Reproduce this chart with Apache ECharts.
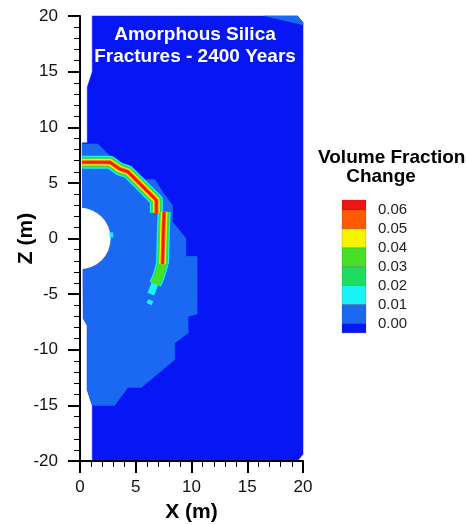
<!DOCTYPE html>
<html><head><meta charset="utf-8">
<script src="https://cdn.jsdelivr.net/npm/echarts@6/dist/echarts.min.js"></script>
<style>html,body{margin:0;padding:0;background:#fff}#c{width:466px;height:525px}</style>
</head><body><div id="c"></div>
<script>
// ---- data ----
const xTickValues = [0, 5, 10, 15, 20];
const zTickValues = [-20, -15, -10, -5, 0, 5, 10, 15, 20];
const levelLabels = ['0.06', '0.05', '0.04', '0.03', '0.02', '0.01', '0.00'];
// band index 0: below 0.00 ... 7: above 0.06
const levelColors = ['#0616f4', '#1b69f2', '#19f3f6', '#1edc5e', '#48e025', '#f8f400', '#ff5b05', '#f01414'];

const domainOutline = [[1.1,20],[19.5,20],[20,19.4],[20,-19.4],[19.5,-20],[1.1,-20],[1.1,-15],[0.65,-13.6],[0.65,-7.8],[0.3,-7.2],[0.2,8.6],[0.65,8.6],[0.65,13.6],[1.1,15]];
const cornerPatch = [[16.6,20],[19.5,20],[20,19.4],[20,19.2]];
const haloOutline = [[0.2,8.5],[1.6,8.5],[2.8,7.3],[3.7,6.8],[5.9,5.3],[6.7,5.3],[7.4,4.2],[8.3,3.0],[8.3,1.5],[9.5,0.0],[9.5,-1.6],[10.5,-1.6],[10.5,-6.8],[9.7,-7.0],[9.7,-8.5],[8.5,-9.4],[8.5,-10.9],[5.5,-13.4],[4.3,-13.4],[3.1,-15.0],[1.1,-15.0],[0.65,-13.6],[0.65,-7.8],[0.3,-7.2]];
const regionLevels = [0, 1, 1];
const driftCenter = [0, 0];
const driftRadius = 2.75;

const fractureUpper = [[0.2,6.85],[2.7,6.85],[3.55,6.25],[4.3,6.0],[5.2,5.1],[6.85,3.45],[6.85,2.3]];
const fractureVertical = [[7.55,2.4],[7.5,1.3],[7.4,-2.3]];
const fractureLowerA = [[7.4,-2.2],[7.05,-3.4],[6.75,-4.1]];
const fractureLowerB = [[6.75,-4.0],[6.35,-5.0]];
const fractureSpeck = [[6.35,-5.55],[6.2,-5.9]];
const driftSpeck = [[2.8,0.55],[2.84,0.1]];
const segmentPeaks = [7, 7, 4, 2, 2, 2];

// ---- styles ----
const FONT = 'Liberation Sans, Arial, Helvetica, sans-serif';
const bandWidths = [0, 0, 13, 10.5, 8.5, 6.5, 4, 2];
const segmentWidthScale = [1, 1, 0.95, 0.55, 0.42, 0.28];

const regions = [domainOutline, cornerPatch, haloOutline];
const segments = [fractureUpper, fractureVertical, fractureLowerA, fractureLowerB, fractureSpeck, driftSpeck];

const lineData = [];
for (let k = 2; k <= 7; k++) {
  segments.forEach((seg, i) => {
    if (segmentPeaks[i] >= k) {
      lineData.push({coords: seg, lineStyle: {color: levelColors[k], width: bandWidths[k] * segmentWidthScale[i], opacity: 1, cap: 'butt', join: 'round'}});
    }
  });
}

const regionData = regions.map((r, i) => [i]);
regionData.push([regions.length]);

// legend graphic
const LX = 342, LW = 24, LTOP = 200, HALF = 10, STEP = 18.9;
const legendEls = [];
const nBands = levelColors.length;
for (let k = nBands - 1; k >= 0; k--) {
  const j = nBands - 1 - k; // 0 = top
  let y, h;
  if (j === 0) { y = LTOP; h = HALF; }
  else if (j === nBands - 1) { y = LTOP + HALF + (nBands - 2) * STEP; h = HALF - 0.5; }
  else { y = LTOP + HALF + (j - 1) * STEP; h = STEP; }
  legendEls.push({type: 'rect', shape: {x: LX, y: y, width: LW, height: h}, style: {fill: levelColors[k], stroke: 'rgba(60,60,60,0.35)', lineWidth: 0.6}});
}
levelLabels.forEach((t, i) => {
  legendEls.push({type: 'text', x: LX + 36, y: LTOP + HALF + i * STEP, style: {text: t, fill: '#222', font: '15px ' + FONT, textAlign: 'left', textVerticalAlign: 'middle'}});
});

const chart = echarts.init(document.getElementById('c'), null, {renderer: 'canvas'});
chart.setOption({
  animation: false,
  backgroundColor: '#fff',
  grid: {left: 80, right: 163, top: 16, bottom: 64, containLabel: false, outerBoundsMode: 'none'},
  xAxis: {
    type: 'value', min: 0, max: 20, interval: 5, z: 5,
    name: 'X (m)', nameLocation: 'middle', nameGap: 41, nameMoveOverlap: false,
    nameTextStyle: {fontFamily: FONT, fontSize: 21, fontWeight: 'bold', color: '#000'},
    axisLine: {show: true, onZero: false, lineStyle: {color: '#000', width: 2}},
    axisTick: {show: true, length: 12, lineStyle: {color: '#000', width: 2}},
    minorTick: {show: true, splitNumber: 5, length: 6, lineStyle: {color: '#000', width: 1}},
    splitLine: {show: false},
    axisLabel: {fontFamily: FONT, fontSize: 17, color: '#111', margin: 18,
      formatter: v => xTickValues.includes(v) ? String(v) : ''}
  },
  yAxis: {
    type: 'value', min: -20, max: 20, interval: 5, z: 5,
    name: 'Z (m)', nameLocation: 'middle', nameGap: 43, nameMoveOverlap: false,
    nameTextStyle: {fontFamily: FONT, fontSize: 21, fontWeight: 'bold', color: '#000'},
    axisLine: {show: true, onZero: false, lineStyle: {color: '#000', width: 2}},
    axisTick: {show: true, length: 12, lineStyle: {color: '#000', width: 2}},
    minorTick: {show: true, splitNumber: 5, length: 6, lineStyle: {color: '#000', width: 1}},
    splitLine: {show: false},
    axisLabel: {fontFamily: FONT, fontSize: 17, color: '#111', margin: 22,
      formatter: v => zTickValues.includes(v) ? String(v) : ''}
  },
  graphic: [
    {type: 'text', x: 195, y: 35, z: 10, style: {text: 'Amorphous Silica', fill: '#fff', font: 'bold 19px ' + FONT, textAlign: 'center', textVerticalAlign: 'middle'}},
    {type: 'text', x: 195, y: 57, z: 10, style: {text: 'Fractures - 2400 Years', fill: '#fff', font: 'bold 19px ' + FONT, textAlign: 'center', textVerticalAlign: 'middle'}},
    {type: 'text', x: 318, y: 158, style: {text: 'Volume Fraction', fill: '#000', font: 'bold 19px ' + FONT, textAlign: 'left', textVerticalAlign: 'middle'}},
    {type: 'text', x: 381, y: 177, style: {text: 'Change', fill: '#000', font: 'bold 19px ' + FONT, textAlign: 'center', textVerticalAlign: 'middle'}},
    {type: 'group', children: legendEls}
  ],
  series: [
    {
      type: 'custom', z: 1, silent: true,
      data: regionData,
      encode: {x: -1, y: -1},
      renderItem: (params, api) => {
        const i = params.dataIndex;
        if (i < regions.length) {
          return {type: 'polygon', shape: {points: regions[i].map(p => api.coord(p))},
            style: {fill: levelColors[regionLevels[i]], stroke: levelColors[regionLevels[i]], lineWidth: 0.5}};
        }
        const c = api.coord(driftCenter);
        const s = api.size([driftRadius, driftRadius]);
        return {type: 'sector', shape: {cx: c[0], cy: c[1], r: (s[0] + s[1]) / 2, r0: 0, startAngle: -Math.PI / 2, endAngle: Math.PI / 2, clockwise: true},
          style: {fill: '#fff'}};
      }
    },
    {
      type: 'lines', coordinateSystem: 'cartesian2d', polyline: true, z: 2, silent: true,
      data: lineData
    }
  ]
});
</script></body></html>
